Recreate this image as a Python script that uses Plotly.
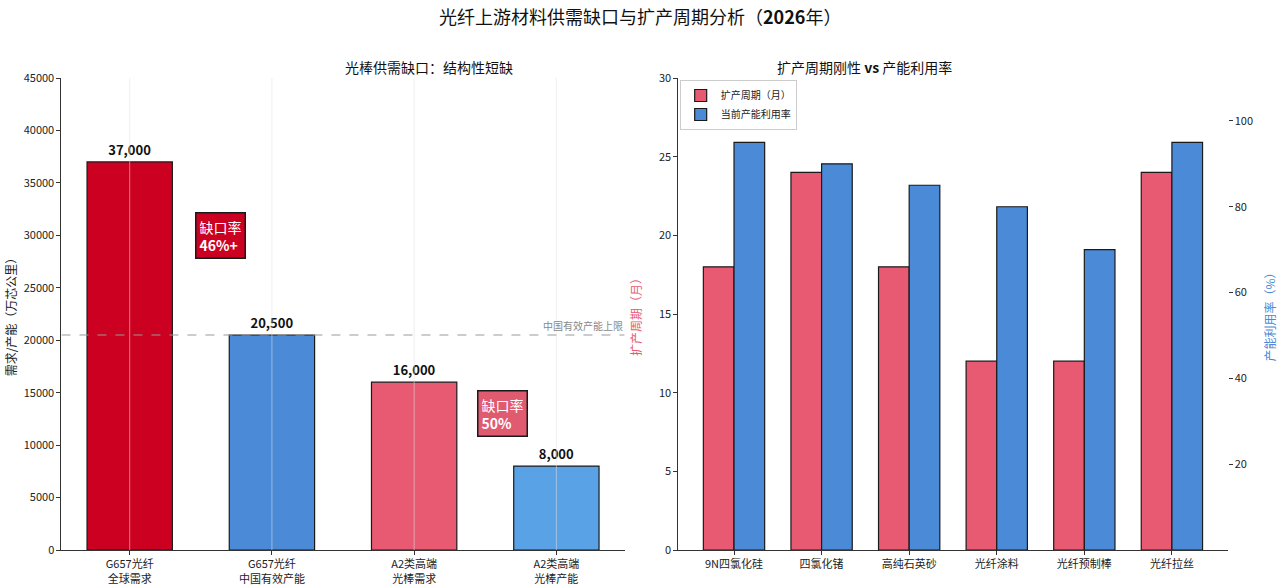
import plotly.graph_objects as go

FONT = "Noto Sans CJK SC, Noto Sans, DejaVu Sans"

# Left chart data
left_cats = ["G657光纤<br>全球需求", "G657光纤<br>中国有效产能", "A2类高端<br>光棒需求", "A2类高端<br>光棒产能"]
left_vals = [37000, 20500, 16000, 8000]
left_colors = ["#cc0020", "#4a8ad6", "#e85a72", "#5aa2e6"]
capacity_cap = 20500
gap_notes = [("缺口率<br><b>46%+</b>", 0.46, 30000, "#cc0020"),
             ("缺口率<br><b>50%</b>", 2.44, 13000, "#e05a70")]

# Right chart data
right_cats = ["9N四氯化硅", "四氯化锗", "高纯石英砂", "光纤涂料", "光纤预制棒", "光纤拉丝"]
expansion_months = [18, 24, 18, 12, 12, 24]
utilization = [95, 90, 85, 80, 70, 95]

fig = go.Figure()

lx = list(range(len(left_cats)))
fig.add_trace(go.Bar(
    x=lx, y=left_vals, width=0.6,
    marker=dict(color=left_colors, line=dict(color="#1a1a1a", width=1.2)),
    text=[f"{v:,}" for v in left_vals], textposition="outside",
    textfont=dict(family=FONT, size=13, color="#111"),
    texttemplate="<b>%{text}</b>", cliponaxis=False,
    xaxis="x", yaxis="y", showlegend=False, hoverinfo="skip"))

rx = list(range(len(right_cats)))
fig.add_trace(go.Bar(
    x=[i - 0.175 for i in rx], y=expansion_months, width=0.35, name="扩产周期（月）",
    marker=dict(color="#e85a72", line=dict(color="#1a1a1a", width=1.2)),
    xaxis="x2", yaxis="y2", hoverinfo="skip"))
fig.add_trace(go.Bar(
    x=[i + 0.175 for i in rx], y=utilization, width=0.35, name="当前产能利用率",
    marker=dict(color="#4a8ad6", line=dict(color="#1a1a1a", width=1.2)),
    xaxis="x2", yaxis="y3", hoverinfo="skip"))

shapes = []
for i in lx:
    shapes.append(dict(type="line", xref="x", yref="y", x0=i, x1=i, y0=0, y1=45000,
                       line=dict(color="rgba(225,225,225,0.55)", width=1), layer="above"))
shapes.append(dict(type="line", xref="x", yref="y", x0=-0.48, x1=3.48,
                   y0=capacity_cap, y1=capacity_cap,
                   line=dict(color="#9a9a9a", width=1.2, dash="dash"), layer="above"))
fig.update_layout(shapes=shapes)

annotations = [
    dict(text="光纤上游材料供需缺口与扩产周期分析（<b>2026</b>年）", x=0.5, y=1 - 16 / 588, xref="paper", yref="paper",
         yanchor="middle", showarrow=False, font=dict(family=FONT, size=18, color="#111")),
    dict(text="光棒供需缺口：结构性短缺", x=0.268, y=1 - 67 / 588, xref="paper", yref="paper",
         yanchor="middle", showarrow=False, font=dict(family=FONT, size=14, color="#111")),
    dict(text="扩产周期刚性 <b>vs</b> 产能利用率", x=0.745, y=1 - 67 / 588, xref="paper", yref="paper",
         yanchor="middle", showarrow=False, font=dict(family=FONT, size=14, color="#111")),
    dict(text="中国有效产能上限", x=3.48, y=capacity_cap, xref="x", yref="y", xanchor="right",
         yanchor="bottom", showarrow=False, font=dict(family=FONT, size=10, color="#888")),
]
for txt, xx, yy, col in gap_notes:
    annotations.append(dict(text=txt, x=xx, y=yy, xref="x", yref="y", xanchor="left", yanchor="middle",
                            align="left", showarrow=False, bgcolor=col, bordercolor="#1a1a1a",
                            borderwidth=1.5, borderpad=3,
                            font=dict(family=FONT, size=14, color="white")))
fig.update_layout(annotations=annotations)

axis_common = dict(showline=True, linecolor="#333", linewidth=1, ticks="outside", ticklen=4,
                   tickcolor="#333", showgrid=False, zeroline=False, automargin=False,
                   tickfont=dict(family=FONT, size=11, color="#222"))

fig.update_layout(
    width=1280, height=588, margin=dict(l=0, r=0, t=0, b=0, autoexpand=False),
    plot_bgcolor="white", paper_bgcolor="white", barmode="overlay",
    font=dict(family=FONT),
    xaxis=dict(domain=[0.048, 0.488], range=[-0.48, 3.48], tickvals=lx, ticktext=left_cats, **axis_common),
    yaxis=dict(domain=[1 - 550 / 588, 1 - 78 / 588], range=[0, 45000], dtick=5000, tickformat="d",
               title=dict(text="需求/产能（万芯公里）", font=dict(family=FONT, size=12, color="#222"), standoff=4),
               **axis_common),
    xaxis2=dict(domain=[0.530, 0.959], range=[-0.635, 5.635], tickvals=rx, ticktext=right_cats,
                anchor="y2", **axis_common),
    yaxis2=dict(domain=[1 - 550 / 588, 1 - 78 / 588], range=[0, 30], dtick=5, anchor="x2",
                title=dict(text="扩产周期（月）", font=dict(family=FONT, size=12, color="#e85a72"), standoff=14),
                **axis_common),
    yaxis3=dict(range=[0, 110], tickvals=[20, 40, 60, 80, 100], overlaying="y2", side="right", anchor="x2",
                showline=False, ticks="outside", ticklen=4, tickcolor="#333", showgrid=False, zeroline=False,
                automargin=False, tickfont=dict(family=FONT, size=11, color="#222"),
                title=dict(text="产能利用率（%）", font=dict(family=FONT, size=12, color="#4a8ad6"), standoff=14)),
    legend=dict(x=0.531, y=1 - 80 / 588, xanchor="left", yanchor="top", bgcolor="white", bordercolor="#ccc",
                borderwidth=1, font=dict(family=FONT, size=10, color="#222"), tracegroupgap=0,
                itemwidth=30),
)

fig.write_html("out.html")
